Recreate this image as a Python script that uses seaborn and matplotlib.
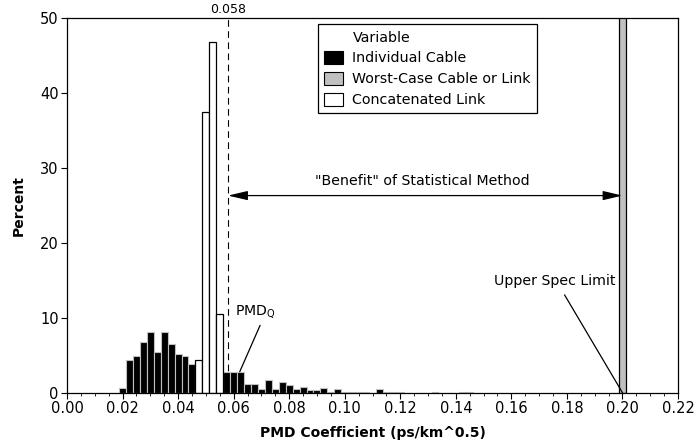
import numpy as np
import pandas as pd
import matplotlib
matplotlib.use("Agg")
import matplotlib.pyplot as plt
from matplotlib.patches import Patch
from matplotlib.ticker import MultipleLocator
import seaborn as sns

# ---------------- data ----------------
bin_width = 0.0025
individual_centers = [0.0200, 0.0225, 0.0250, 0.0275, 0.0300, 0.0325, 0.0350, 0.0375,
                      0.0400, 0.0425, 0.0450, 0.0575, 0.0600, 0.0625, 0.0650, 0.0675,
                      0.0700, 0.0725, 0.0750, 0.0775, 0.0800, 0.0825, 0.0850, 0.0875,
                      0.0900, 0.0925, 0.0950, 0.0975, 0.1000, 0.1025, 0.1050, 0.1075,
                      0.1125, 0.1150, 0.1175, 0.1200, 0.1325, 0.1425, 0.1450]
individual_pct = [0.6, 4.3, 4.9, 6.8, 8.1, 5.4, 8.1, 6.5,
                  5.1, 4.9, 3.8, 2.75, 2.7, 2.7, 1.2, 1.2,
                  0.45, 1.65, 0.55, 1.4, 1.0, 0.45, 0.8, 0.4,
                  0.4, 0.6, 0.1, 0.45, 0.1, 0.05, 0.15, 0.15,
                  0.5, 0.15, 0.05, 0.1, 0.15, 0.1, 0.1]
worst_centers = [0.2000]
worst_pct = [100.0]
concat_centers = [0.0475, 0.0500, 0.0525, 0.0550]
concat_pct = [4.4, 37.5, 46.8, 10.5]

x_ticks = [0.00, 0.02, 0.04, 0.06, 0.08, 0.10, 0.12, 0.14, 0.16, 0.18, 0.20, 0.22]
y_ticks = [0, 10, 20, 30, 40, 50]
pmdq = 0.058
spec_limit = 0.20
benefit_level = 26.3

series_names = ["Individual Cable", "Worst-Case Cable or Link", "Concatenated Link"]
fills = ["#000000", "#c0c0c0", "#ffffff"]
edges_c = ["#c0c0c0", "#000000", "#000000"]

# ---------------- plot ----------------
sns.set_theme(style="ticks")
plt.rcParams["font.family"] = ["DejaVu Sans"]
plt.rcParams.update({"text.color": "black", "axes.labelcolor": "black",
                     "xtick.color": "black", "ytick.color": "black"})

fig = plt.figure(figsize=(6.94, 4.48), dpi=100)
ax = fig.add_axes([0.0965, 0.1234, 0.8805, 0.8366])


def hist_layer(centers, pct, fill, edge, lw):
    df = pd.DataFrame({"pmd": centers, "pct": pct})
    lo = float(df["pmd"].min()) - bin_width / 2
    hi = float(df["pmd"].max()) + bin_width / 2
    sns.histplot(data=df, x="pmd", weights="pct", binwidth=bin_width,
                 binrange=(lo, hi), stat="count", color=fill,
                 edgecolor=edge, linewidth=lw, alpha=1.0, ax=ax, zorder=2)


hist_layer(individual_centers, individual_pct, fills[0], edges_c[0], 0.8)
hist_layer(worst_centers, worst_pct, fills[1], edges_c[1], 0.9)
hist_layer(concat_centers, concat_pct, fills[2], edges_c[2], 0.9)

ax.set_xlim(0, 0.22)
ax.set_ylim(0, 50)
ax.set_xticks(x_ticks)
ax.set_xticklabels([f"{v:.2f}" for v in x_ticks])
ax.set_yticks(y_ticks)
ax.xaxis.set_minor_locator(MultipleLocator(0.005))
ax.tick_params(axis="both", which="major", labelsize=10.5, length=4, width=0.8,
               color="black", labelcolor="black", direction="out", pad=2)
ax.tick_params(axis="x", which="minor", length=2, width=0.6, color="black",
               direction="out", bottom=True)
for sp in ax.spines.values():
    sp.set_visible(True)
    sp.set_color("black")
    sp.set_linewidth(0.9)

ax.set_xlabel("PMD Coefficient (ps/km^0.5)", fontsize=10, fontweight="bold", labelpad=7)
ax.set_ylabel("Percent", fontsize=10, fontweight="bold", labelpad=10)

# reference line at PMDQ
ax.axvline(pmdq, color="black", lw=0.8, ls=(0, (6, 4)), zorder=3)
ax.text(pmdq, 50.3, f"{pmdq:.3f}", ha="center", va="bottom", fontsize=9,
        clip_on=False)

# benefit arrow
ax.annotate("", xy=(pmdq, benefit_level), xytext=(spec_limit, benefit_level),
            arrowprops=dict(arrowstyle="<|-|>,head_length=0.85,head_width=0.2",
                            color="black", lw=0.9,
                            mutation_scale=14, shrinkA=0, shrinkB=0))
ax.text(0.128, 28.3, '"Benefit" of Statistical Method',
        ha="center", va="center", fontsize=10.2)

# annotations
ax.annotate("Upper Spec Limit", xy=(spec_limit, 0), xytext=(0.1755, 14.9),
            ha="center", va="center", fontsize=10.2,
            arrowprops=dict(arrowstyle="-", color="black", lw=0.9,
                            relpos=(0.55, 0.0), shrinkA=3, shrinkB=0))
ax.annotate("PMD$_\\mathregular{Q}$", xy=(0.0622, 2.8), xytext=(0.0678, 10.9),
            ha="center", va="center", fontsize=10.2,
            arrowprops=dict(arrowstyle="-", color="black", lw=0.9,
                            relpos=(0.68, 0.0), shrinkA=2, shrinkB=0))

# legend (title row aligned with entry labels)
handles = [Patch(visible=False)] + [Patch(facecolor=f, edgecolor="black", linewidth=0.8)
                                    for f in fills]
labels = ["Variable"] + series_names
leg = ax.legend(handles, labels, loc="upper left",
                bbox_to_anchor=(0.411, 0.983), borderaxespad=0,
                fontsize=10.3, frameon=True, fancybox=False, edgecolor="black",
                framealpha=1.0,
                handlelength=1.35, handleheight=1.05, handletextpad=0.65,
                borderpad=0.4, labelspacing=0.45)
leg.get_frame().set_linewidth(0.9)

fig.savefig("out.png", dpi=100)
